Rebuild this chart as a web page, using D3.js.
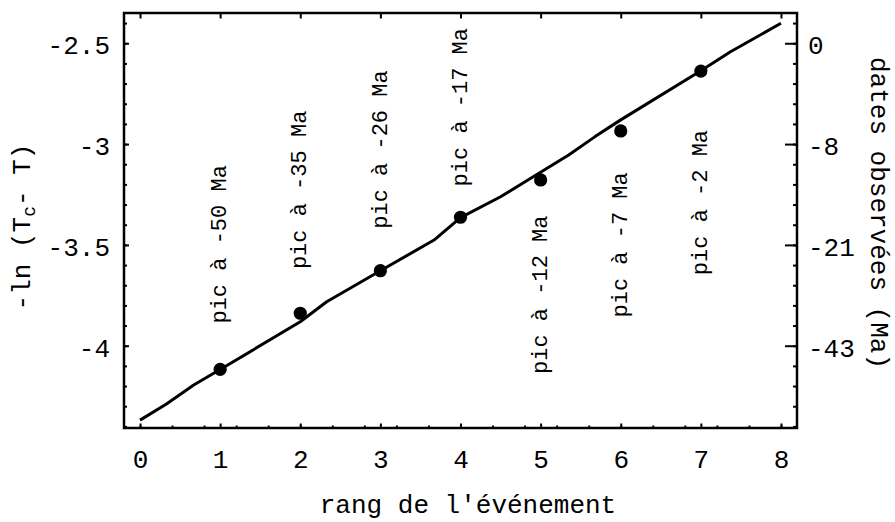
<!DOCTYPE html>
<html>
<head>
<meta charset="utf-8">
<script src="https://cdn.jsdelivr.net/npm/d3@7"></script>
<style>
  body { margin: 0; background: #fff; }
  svg text { font-family: "Courier New", Courier, "Liberation Mono", monospace; fill: #000; }
</style>
</head>
<body>
<div id="chart"></div>
<script>
// observed events: rank and -ln(Tc - T)
const ranks = [1, 2, 3, 4, 5, 6, 7];
const lnValues = [-4.117, -3.839, -3.628, -3.363, -3.178, -2.935, -2.638];
const peakLabels = ["pic à -50 Ma", "pic à -35 Ma", "pic à -26 Ma", "pic à -17 Ma", "pic à -12 Ma", "pic à -7 Ma", "pic à -2 Ma"];
// y value where each vertical label starts
const labelStart = [-3.89, -3.62, -3.42, -3.21, -4.14, -3.86, -3.65];

// model curve
const fitX = [0, 0.33, 0.67, 1, 2, 2.33, 3, 3.67, 4, 4.5, 5.35, 5.68, 6, 7, 7.37, 8];
const fitY = [-4.369, -4.289, -4.195, -4.118, -3.881, -3.782, -3.628, -3.476, -3.365, -3.261, -3.054, -2.963, -2.88, -2.636, -2.542, -2.401];

const xTicks = [0, 1, 2, 3, 4, 5, 6, 7, 8];
const yTicks = [-4, -3.5, -3, -2.5];
const dateTickLabels = ["-43", "-21", "-8", "0"];

const width = 895,
  height = 522;
const m = { l: 124, r: 797, t: 13, b: 428 };

const svg = d3.select("#chart").append("svg").attr("width", width).attr("height", height);

const x = d3.scaleLinear().domain([-0.2, 8.2]).range([m.l, m.r]);
const y = d3.scaleLinear().domain([-4.408, -2.35]).range([m.b, m.t]);

const minorY = d3.range(-4.4, -2.35, 0.1).map((d) => Math.round(d * 10) / 10);
const minorX = d3.range(0, 8.01, 0.4);

const styleAxis = (g) => {
  g.select(".domain").remove();
  g.selectAll("line").attr("stroke", "#000").attr("stroke-width", 2);
  g.selectAll("text").attr("font-size", 26);
};

// left
svg
  .append("g")
  .attr("transform", `translate(${m.l},0)`)
  .call(d3.axisLeft(y).tickValues(minorY).tickSize(-3).tickFormat(""))
  .call(styleAxis);
svg
  .append("g")
  .attr("transform", `translate(${m.l},0)`)
  .call(d3.axisLeft(y).tickValues(yTicks).tickSize(-5).tickPadding(14).tickFormat((d) => String(d)))
  .call(styleAxis)
  .selectAll("text")
  .attr("dy", "0.4em");

// right
svg
  .append("g")
  .attr("transform", `translate(${m.r},0)`)
  .call(d3.axisRight(y).tickValues(minorY).tickSize(-4).tickFormat(""))
  .call(styleAxis);
svg
  .append("g")
  .attr("transform", `translate(${m.r},0)`)
  .call(d3.axisRight(y).tickValues(yTicks).tickSize(-12).tickPadding(11).tickFormat((d, i) => dateTickLabels[i]))
  .call(styleAxis)
  .selectAll("text")
  .attr("dy", "0.4em");

// bottom
svg
  .append("g")
  .attr("transform", `translate(0,${m.b})`)
  .call(d3.axisBottom(x).tickValues(minorX).tickSize(-2.5).tickFormat(""))
  .call(styleAxis);
svg
  .append("g")
  .attr("transform", `translate(0,${m.b})`)
  .call(d3.axisBottom(x).tickValues(xTicks).tickSize(-4.5).tickPadding(21.5).tickFormat(d3.format("d")))
  .call(styleAxis);

// top
svg
  .append("g")
  .attr("transform", `translate(0,${m.t})`)
  .call(d3.axisTop(x).tickValues(xTicks).tickSize(-5.5).tickFormat(""))
  .call(styleAxis);

svg
  .append("rect")
  .attr("x", m.l)
  .attr("y", m.t)
  .attr("width", m.r - m.l)
  .attr("height", m.b - m.t)
  .attr("fill", "none")
  .attr("stroke", "#000")
  .attr("stroke-width", 2.5);

// curve + points
svg
  .append("path")
  .datum(fitX.map((d, i) => [d, fitY[i]]))
  .attr("fill", "none")
  .attr("stroke", "#000")
  .attr("stroke-width", 3)
  .attr("stroke-linejoin", "round")
  .attr("d", d3.line().x((d) => x(d[0])).y((d) => y(d[1])));

svg
  .selectAll(".pt")
  .data(ranks)
  .enter()
  .append("circle")
  .attr("class", "pt")
  .attr("cx", (d) => x(d))
  .attr("cy", (d, i) => y(lnValues[i]))
  .attr("r", 6.6)
  .attr("fill", "#000");

svg
  .selectAll(".peak")
  .data(ranks)
  .enter()
  .append("text")
  .attr("class", "peak")
  .attr("transform", (d, i) => `translate(${x(d)},${y(labelStart[i])}) rotate(-90)`)
  .attr("dy", "0.28em")
  .attr("font-size", 22)
  .text((d, i) => peakLabels[i]);

// axis titles
svg
  .append("text")
  .attr("x", 468)
  .attr("y", 513)
  .attr("text-anchor", "middle")
  .attr("font-size", 26)
  .text("rang de l'événement");

const yTitle = svg
  .append("text")
  .attr("transform", `translate(30,227) rotate(-90)`)
  .attr("text-anchor", "middle")
  .attr("font-size", 26);
yTitle.append("tspan").text("-ln (T");
yTitle.append("tspan").attr("font-size", 18).attr("dy", "0.3em").text("c");
yTitle.append("tspan").attr("dy", "-0.2em").text("- T)");

svg
  .append("text")
  .attr("transform", `translate(871,213) rotate(90)`)
  .attr("text-anchor", "middle")
  .attr("font-size", 26)
  .text("dates observées (Ma)");
</script>
</body>
</html>
